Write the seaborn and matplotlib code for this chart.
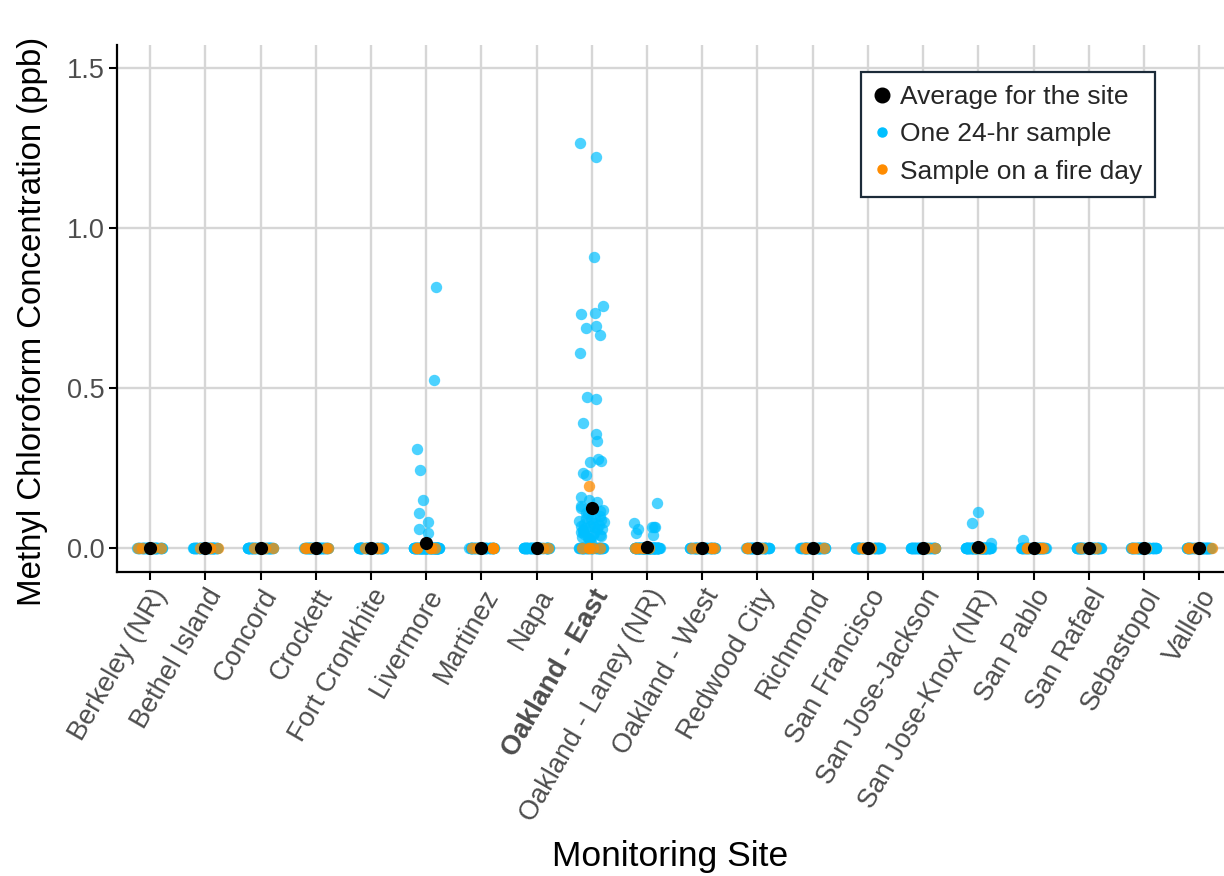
import numpy as np
import pandas as pd
import matplotlib
matplotlib.use("Agg")
import matplotlib.pyplot as plt
from matplotlib.lines import Line2D
import seaborn as sns

# ---- data -------------------------------------------------------------
sites = ["Berkeley (NR)", "Bethel Island", "Concord", "Crockett", "Fort Cronkhite",
         "Livermore", "Martinez", "Napa", "Oakland - East", "Oakland - Laney (NR)",
         "Oakland - West", "Redwood City", "Richmond", "San Francisco",
         "San Jose-Jackson", "San Jose-Knox (NR)", "San Pablo", "San Rafael",
         "Sebastopol", "Vallejo"]

# number of regular 24-hr samples below detection (0 ppb) at each site
zero_samples = [60, 60, 60, 60, 60, 135, 60, 60, 54, 127,
                60, 60, 60, 60, 60, 92, 60, 60, 60, 60]
# number of fire-day samples at 0 ppb at each site
fire_zero_samples = [4, 4, 3, 6, 3, 6, 6, 2, 5, 5,
                     5, 3, 6, 5, 3, 5, 6, 2, 4, 5]

# detected concentrations (ppb), regular days
livermore_detects = [0.815, 0.525, 0.31, 0.245, 0.15, 0.11, 0.08, 0.06, 0.046]
oakland_east_detects = [1.265, 1.223, 0.91, 0.756, 0.735, 0.73, 0.694, 0.689,
                        0.666, 0.61, 0.473, 0.465, 0.39, 0.356, 0.335, 0.278,
                        0.273, 0.27, 0.235, 0.228, 0.15, 0.16, 0.145,
                        0.13, 0.125, 0.12, 0.115, 0.11, 0.105, 0.1, 0.098,
                        0.095, 0.09, 0.088, 0.085, 0.08, 0.078, 0.075, 0.072,
                        0.07, 0.068, 0.065, 0.062, 0.06, 0.058, 0.055, 0.052,
                        0.05, 0.048, 0.045, 0.042, 0.04, 0.038, 0.035, 0.032,
                        0.03, 0.028, 0.025, 0.02]
laney_detects = [0.14, 0.077, 0.067, 0.067, 0.065, 0.06, 0.047, 0.04]
knox_detects = [0.113, 0.077, 0.016]
san_pablo_detects = [0.025]

# detected concentrations (ppb), fire days
oakland_east_fire_detects = [0.195]

detects = {
    "Livermore": livermore_detects,
    "Oakland - East": oakland_east_detects,
    "Oakland - Laney (NR)": laney_detects,
    "San Jose-Knox (NR)": knox_detects,
    "San Pablo": san_pablo_detects,
}
fire_detects = {"Oakland - East": oakland_east_fire_detects}

regular_rows, fire_rows = [], []
for site, nz, nf in zip(sites, zero_samples, fire_zero_samples):
    regular_rows += [(site, 0.0)] * nz + [(site, v) for v in detects.get(site, [])]
    fire_rows += [(site, 0.0)] * nf + [(site, v) for v in fire_detects.get(site, [])]

regular = pd.DataFrame(regular_rows, columns=["site", "ppb"])
fire = pd.DataFrame(fire_rows, columns=["site", "ppb"])
site_avg = (pd.concat([regular, fire])
            .groupby("site", sort=False)["ppb"].mean()
            .reindex(sites).reset_index())

# ---- figure -----------------------------------------------------------
sns.set_style("ticks")
plt.rcParams["font.family"] = ["Liberation Sans", "DejaVu Sans"]

blue = "#00BFFF"
orange = "#FF8C00"
tick_grey = "#4D4D4D"

fig = plt.figure(figsize=(12.24, 8.76), dpi=100)
ax = fig.add_axes([117 / 1224, 1 - 572 / 876, 1 - 117 / 1224, (572 - 45) / 876])

np.random.seed(7)
sns.stripplot(data=regular, x="site", y="ppb", order=sites, jitter=0.23,
              color=blue, alpha=0.7, size=8.2, linewidth=0, ax=ax, zorder=3)
sns.stripplot(data=fire, x="site", y="ppb", order=sites, jitter=0.23,
              color=orange, alpha=0.75, size=8.2, linewidth=0, ax=ax, zorder=4)
sns.stripplot(data=site_avg, x="site", y="ppb", order=sites, jitter=False,
              color="black", size=9.5, linewidth=0, ax=ax, zorder=5)

ax.set_xlim(-0.6, 19.45)
ax.set_ylim(-0.075, 1.572)
ax.set_yticks([0.0, 0.5, 1.0, 1.5])
ax.set_yticklabels(["0.0", "0.5", "1.0", "1.5"])

ax.grid(True, color="#D6D6D6", linewidth=1.7, zorder=0)
ax.set_axisbelow(True)
for side in ("top", "right"):
    ax.spines[side].set_visible(False)
for side in ("left", "bottom"):
    ax.spines[side].set_color("black")
    ax.spines[side].set_linewidth(1.6)

ax.tick_params(axis="both", colors="black", length=6, width=1.5,
               labelsize=19.5, labelcolor=tick_grey, pad=3)
for lbl in ax.get_xticklabels():
    lbl.set_rotation(60)
    lbl.set_ha("right")
    lbl.set_va("top")
    lbl.set_rotation_mode("anchor")
    if lbl.get_text() == "Oakland - East":
        lbl.set_fontweight("bold")

ax.set_xlabel("Monitoring Site", fontsize=25.5, color="black")
ax.xaxis.set_label_coords(0.5, (572 - 840) / 527)
ax.set_ylabel("Methyl Chloroform Concentration (ppb)", fontsize=23.8,
              color="black")
ax.yaxis.set_label_coords((48 - 117) / 1107, (572 - 321) / 527)

handles = [
    Line2D([], [], linestyle="none", marker="o", color="black", markersize=10.5),
    Line2D([], [], linestyle="none", marker="o", color=blue, markersize=6.5),
    Line2D([], [], linestyle="none", marker="o", color=orange, markersize=6.5),
]
labels = ["Average for the site", "One 24-hr sample", "Sample on a fire day"]
leg = ax.legend(handles, labels, loc="upper right",
                bbox_to_anchor=((1155 - 117) / 1107, (572 - 72) / 527),
                fontsize=19, frameon=True, fancybox=False, framealpha=1,
                edgecolor="#1C2B39", handlelength=0.6, handletextpad=0.35,
                labelspacing=0.5, borderpad=0.5, borderaxespad=0)
leg.get_frame().set_linewidth(1.6)

fig.savefig("out.png", dpi=100)
